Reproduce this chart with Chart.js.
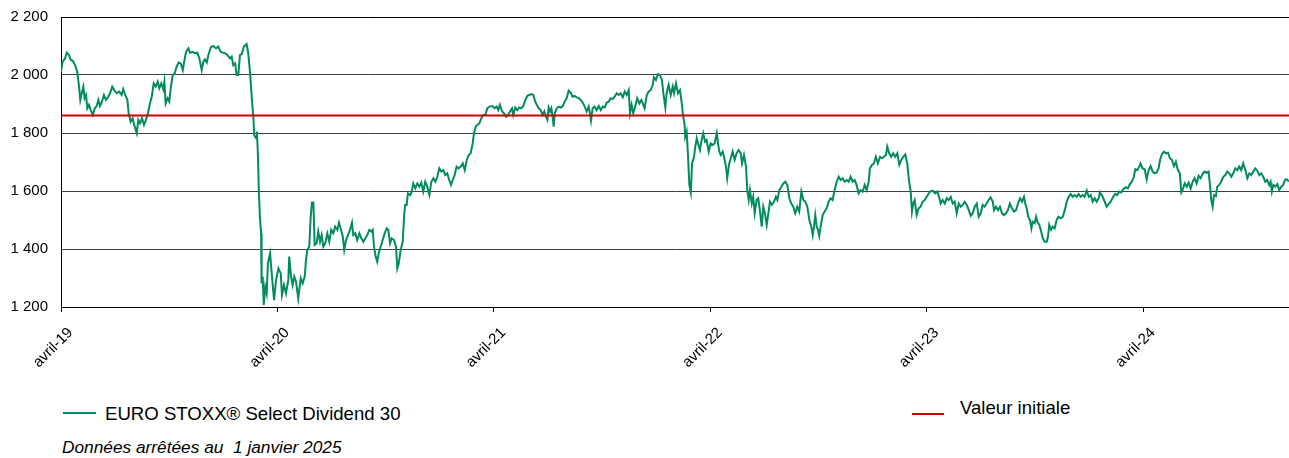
<!DOCTYPE html>
<html lang="fr">
<head>
<meta charset="utf-8">
<script src="https://cdn.jsdelivr.net/npm/chart.js@4.4.1/dist/chart.umd.min.js"></script>
<style>
  html, body { margin: 0; padding: 0; background: #fff; }
  body { width: 1289px; height: 458px; position: relative; overflow: hidden;
         font-family: 'Liberation Sans', Arial, sans-serif; color: #000; }
  #chart { position: absolute; left: 0; top: -5px; }
  .leg { position: absolute; font-size: 18.6px; line-height: 18px; white-space: nowrap; }
  .swatch { position: absolute; height: 2px; }
  #note { position: absolute; left: 62px; top: 439px; font-size: 17.3px; line-height: 17px;
          font-style: italic; white-space: pre; }
</style>
</head>
<body>
<canvas id="chart" width="1289" height="385"></canvas>
<div class="swatch" id="sw1" style="left:63px;top:412px;width:33px;"></div>
<div class="leg" id="lab1" style="left:105px;top:405px;"></div>
<div class="swatch" id="sw2" style="left:912px;top:413px;width:32px;"></div>
<div class="leg" id="lab2" style="left:960px;top:399px;"></div>
<div id="note">Données arrêtées au  1 janvier 2025</div>
<script>
'use strict';

const seriesName = 'EURO STOXX® Select Dividend 30';
const refName = 'Valeur initiale';
const initialValue = 1860;

// months since avril 2019
const tickMonths = [0, 12, 24, 36, 48, 60];
const tickLabels = ['avril-19', 'avril-20', 'avril-21', 'avril-22', 'avril-23', 'avril-24'];
const endMonth = 68.07;

const months = [
  // 2019 - early 2020
  0, 0.09, 0.22, 0.32, 0.44, 0.54, 0.65, 0.78, 0.90, 1.00,
  1.07, 1.15, 1.24, 1.31, 1.39, 1.46, 1.55, 1.65, 1.76, 1.87,
  1.98, 2.07, 2.16, 2.27, 2.38, 2.49, 2.62, 2.72, 2.84, 2.95,
  3.09, 3.23, 3.36, 3.45, 3.56, 3.68, 3.75, 3.86, 3.97, 4.06,
  4.20, 4.28, 4.38, 4.49, 4.60, 4.71, 4.82, 4.93, 5.03, 5.14,
  5.25, 5.36, 5.45, 5.56, 5.67, 5.73, 5.80, 5.91, 6.00, 6.08,
  6.19, 6.30, 6.41, 6.52, 6.64, 6.75, 6.83, 6.93, 7.06, 7.15,
  7.28, 7.43, 7.56, 7.67, 7.80, 7.89, 7.98, 8.08, 8.17, 8.30,
  8.44, 8.59, 8.72, 8.85, 8.96, 9.09, 9.22, 9.37, 9.46, 9.55,
  9.65, 9.74, 9.83, 9.92, 10.02, 10.14, 10.29, 10.38, 10.48, 10.57,
  10.66, 10.71, 10.81, 10.86, 10.92, 10.97, 11.03, 11.09, 11.12, 11.18,
  11.24, 11.32, 11.40, 11.47,
  // 2020 - 2021
  11.59, 11.68, 11.81, 11.92, 12.05, 12.18, 12.25, 12.36, 12.47, 12.60,
  12.65, 12.75, 12.84, 12.93, 13.03, 13.15, 13.29, 13.40, 13.51, 13.58,
  13.65, 13.76, 13.84, 13.91, 13.99, 14.06, 14.17, 14.26, 14.36, 14.45,
  14.54, 14.65, 14.76, 14.87, 14.98, 15.09, 15.20, 15.32, 15.41, 15.52,
  15.62, 15.70, 15.80, 15.91, 16.02, 16.13, 16.20, 16.31, 16.42, 16.54,
  16.65, 16.76, 16.87, 16.98, 17.09, 17.20, 17.28, 17.35, 17.44, 17.53,
  17.61, 17.72, 17.83, 17.94, 18.05, 18.14, 18.24, 18.33, 18.46, 18.57,
  18.64, 18.72, 18.83, 18.94, 19.03, 19.08, 19.16, 19.23, 19.35, 19.44,
  19.53, 19.64, 19.75, 19.86, 19.97, 20.08, 20.19, 20.30, 20.42, 20.53,
  20.64, 20.75, 20.86, 20.97, 21.08, 21.19, 21.30, 21.41, 21.52, 21.62,
  21.71, 21.82, 21.93, 22.04, 22.16, 22.27, 22.38, 22.49, 22.60, 22.71,
  22.82, 22.89, 22.99, 23.08, 23.19, 23.30, 23.41, 23.52, 23.63, 23.74,
  // 2021 - 2022
  23.93, 24.04, 24.15, 24.24, 24.33, 24.45, 24.56, 24.67, 24.78, 24.89,
  25.00, 25.07, 25.18, 25.29, 25.40, 25.51, 25.63, 25.74, 25.85, 25.96,
  26.07, 26.18, 26.29, 26.37, 26.48, 26.59, 26.70, 26.79, 26.88, 26.96,
  27.03, 27.11, 27.18, 27.26, 27.31, 27.37, 27.48, 27.59, 27.70, 27.81,
  27.92, 28.03, 28.14, 28.25, 28.36, 28.47, 28.59, 28.70, 28.81, 28.92,
  29.03, 29.14, 29.25, 29.32, 29.38, 29.47, 29.58, 29.69, 29.81, 29.92,
  30.03, 30.14, 30.25, 30.36, 30.47, 30.58, 30.69, 30.80, 30.91, 31.02,
  31.14, 31.25, 31.36, 31.47, 31.54, 31.63, 31.72, 31.83, 31.94, 32.06,
  32.17, 32.28, 32.35, 32.47, 32.58, 32.69, 32.80, 32.87, 32.98, 33.09,
  33.20, 33.31, 33.39, 33.50, 33.57, 33.68, 33.80, 33.91, 33.98, 34.09,
  34.20, 34.31, 34.41, 34.49, 34.57, 34.60, 34.68, 34.75, 34.83, 34.91,
  34.98, 35.09, 35.16, 35.24, 35.31,
  // 2022 - 2023
  35.42, 35.51, 35.60, 35.70, 35.79, 35.90, 36.01, 36.12, 36.23, 36.35,
  36.42, 36.49, 36.57, 36.68, 36.75, 36.86, 36.93, 37.04, 37.15, 37.23,
  37.34, 37.45, 37.56, 37.68, 37.75, 37.86, 37.97, 38.04, 38.12, 38.19,
  38.29, 38.37, 38.45, 38.56, 38.65, 38.75, 38.84, 38.93, 39.02, 39.12,
  39.21, 39.30, 39.41, 39.52, 39.63, 39.71, 39.82, 39.93, 40.04, 40.15,
  40.26, 40.37, 40.48, 40.59, 40.70, 40.81, 40.92, 41.04, 41.15, 41.26,
  41.37, 41.48, 41.59, 41.67, 41.74, 41.81, 41.89, 41.96, 42.03, 42.11,
  42.22, 42.33, 42.44, 42.55, 42.66, 42.77, 42.88, 43.00, 43.11, 43.22,
  43.33, 43.44, 43.55, 43.66, 43.77, 43.88, 43.99, 44.10, 44.21, 44.32,
  44.44, 44.55, 44.66, 44.77, 44.84, 44.95, 45.06, 45.17, 45.28, 45.40,
  45.51, 45.62, 45.73, 45.80, 45.91, 46.02, 46.13, 46.24, 46.36, 46.47,
  46.58, 46.69, 46.80, 46.91, 47.00, 47.10, 47.17, 47.24, 47.32, 47.43,
  47.54, 47.65, 47.76, 47.87, 47.99,
  // 2023 - 2024
  48.17, 48.32, 48.46, 48.58, 48.69, 48.76, 48.87, 48.99, 49.10, 49.21,
  49.32, 49.43, 49.54, 49.65, 49.76, 49.87, 49.98, 50.09, 50.21, 50.32,
  50.43, 50.54, 50.65, 50.76, 50.87, 50.98, 51.09, 51.20, 51.31, 51.42,
  51.53, 51.65, 51.72, 51.83, 51.94, 52.05, 52.16, 52.27, 52.38, 52.49,
  52.60, 52.71, 52.83, 52.94, 53.05, 53.16, 53.27, 53.38, 53.45, 53.53,
  53.62, 53.71, 53.79, 53.86, 53.97, 54.05, 54.12, 54.23, 54.31, 54.42,
  54.53, 54.64, 54.71, 54.78, 54.88, 54.97, 55.08, 55.19, 55.30, 55.41,
  55.53, 55.64, 55.75, 55.86, 55.97, 56.08, 56.19, 56.30, 56.41, 56.52,
  56.63, 56.74, 56.86, 56.97, 57.08, 57.19, 57.30, 57.41, 57.52,
  // 2024
  57.59, 57.74, 57.85, 57.96, 58.07, 58.18, 58.33, 58.44, 58.55, 58.66,
  58.77, 58.88, 59.03, 59.14, 59.25, 59.36, 59.47, 59.55, 59.66, 59.77,
  59.84, 59.95, 60.07, 60.18, 60.29, 60.40, 60.51, 60.62, 60.73, 60.84,
  60.92, 61.03, 61.14, 61.25, 61.36, 61.47, 61.58, 61.69, 61.80, 61.91,
  62.02, 62.10, 62.17, 62.29, 62.40, 62.51, 62.62, 62.73, 62.84, 62.95,
  63.06, 63.17, 63.28, 63.39, 63.50, 63.61, 63.69, 63.76, 63.84, 63.91,
  64.02, 64.09, 64.20, 64.31, 64.43, 64.54, 64.65, 64.76, 64.87, 64.98,
  65.09, 65.20, 65.31, 65.42, 65.53, 65.65, 65.76, 65.87, 65.98, 66.09,
  66.20, 66.31, 66.42, 66.53, 66.64, 66.75, 66.86, 66.97, 67.05, 67.12,
  67.20, 67.31, 67.42, 67.53, 67.64, 67.75, 67.86, 67.97, 68.05
];

const values = [
  // 2019 - early 2020
  2011, 2046, 2057, 2077, 2069, 2052, 2049, 2034, 2011, 1960,
  1914, 1937, 1960, 1920, 1931, 1885, 1897, 1879, 1862, 1885,
  1893, 1914, 1893, 1908, 1931, 1914, 1925, 1937, 1960, 1948,
  1937, 1943, 1931, 1951, 1931, 1914, 1868, 1839, 1851, 1828,
  1799, 1845, 1833, 1851, 1828, 1845, 1868, 1902, 1925, 1971,
  1960, 1977, 1954, 1971, 1951, 1977, 1902, 1920, 1908, 1954,
  2000, 2006, 2029, 2043, 2040, 2017, 2046, 2080, 2092, 2077,
  2080, 2075, 2077, 2057, 2017, 2046, 2054, 2043, 2069, 2095,
  2100, 2092, 2098, 2080, 2077, 2075, 2069, 2057, 2063, 2034,
  2040, 2000, 2000, 2069, 2072, 2098, 2107, 2075, 2006, 1925,
  1856, 1793, 1782, 1805, 1718, 1592, 1506, 1454, 1282, 1305,
  1207, 1270, 1247, 1350,
  // 2020 - 2021
  1385, 1316, 1224, 1293, 1333, 1316, 1241, 1276, 1247, 1293,
  1374, 1305, 1276, 1305, 1287, 1230, 1299, 1282, 1305, 1362,
  1397, 1408, 1511, 1560, 1560, 1414, 1420, 1460, 1425, 1448,
  1408, 1420, 1454, 1425, 1466, 1454, 1477, 1466, 1491, 1466,
  1443, 1397, 1431, 1448, 1466, 1491, 1448, 1454, 1431, 1454,
  1437, 1425, 1437, 1448, 1466, 1460, 1466, 1408, 1374, 1356,
  1385, 1408, 1431, 1454, 1471, 1466, 1420, 1437, 1431, 1408,
  1333, 1350, 1397, 1425, 1523, 1552, 1552, 1592, 1586, 1598,
  1626, 1609, 1626, 1615, 1629, 1598, 1632, 1615, 1586, 1632,
  1644, 1632, 1649, 1678, 1667, 1672, 1655, 1661, 1638, 1621,
  1638, 1655, 1684, 1678, 1684, 1695, 1672, 1707, 1724, 1730,
  1764, 1799, 1822, 1828, 1833, 1851, 1862, 1862, 1885, 1891,
  // 2021 - 2022
  1893, 1885, 1891, 1879, 1897, 1874, 1868, 1856, 1862, 1874,
  1885, 1862, 1888, 1879, 1888, 1885, 1893, 1914, 1928, 1931,
  1934, 1931, 1908, 1897, 1885, 1879, 1862, 1874, 1856, 1845,
  1888, 1874, 1885, 1851, 1822, 1868, 1885, 1891, 1888, 1893,
  1908, 1920, 1946, 1939, 1925, 1928, 1923, 1920, 1914, 1905,
  1891, 1874, 1891, 1868, 1843, 1885, 1891, 1879, 1893, 1879,
  1891, 1888, 1905, 1908, 1920, 1917, 1925, 1937, 1931, 1937,
  1923, 1943, 1931, 1948, 1868, 1897, 1868, 1891, 1920, 1902,
  1914, 1897, 1885, 1931, 1943, 1948, 1966, 1992, 1983, 2003,
  2000, 1983, 1937, 1888, 1937, 1966, 1931, 1960, 1937, 1971,
  1937, 1948, 1902, 1856, 1828, 1787, 1805, 1730, 1621, 1595,
  1695, 1718, 1753, 1782, 1764,
  // 2022 - 2023
  1741, 1776, 1799, 1770, 1776, 1736, 1764, 1759, 1764, 1799,
  1764, 1736, 1724, 1736, 1718, 1684, 1644, 1695, 1718, 1736,
  1707, 1730, 1741, 1730, 1695, 1724, 1684, 1603, 1569, 1603,
  1557, 1580, 1523, 1569, 1575, 1529, 1477, 1546, 1523, 1483,
  1523, 1563, 1552, 1563, 1580, 1569, 1603, 1615, 1626, 1632,
  1621, 1575, 1557, 1546, 1523, 1546, 1529, 1598, 1569, 1563,
  1546, 1500, 1477, 1448, 1477, 1517, 1477, 1466, 1445, 1477,
  1517, 1529, 1540, 1563, 1575, 1569, 1603, 1632, 1649, 1638,
  1644, 1632, 1638, 1632, 1649, 1632, 1638, 1621, 1592, 1603,
  1598, 1621, 1603, 1632, 1678, 1690, 1695, 1718, 1695, 1718,
  1713, 1718, 1724, 1753, 1730, 1718, 1730, 1718, 1730, 1690,
  1707, 1718, 1726, 1695, 1638, 1598, 1529, 1557, 1569, 1517,
  1540, 1546, 1563, 1569, 1580,
  // 2023 - 2024
  1598, 1601, 1592, 1598, 1575, 1557, 1569, 1557, 1575, 1569,
  1580, 1557, 1563, 1523, 1557, 1546, 1552, 1563, 1552, 1534,
  1514, 1523, 1546, 1557, 1511, 1523, 1552, 1546, 1557, 1569,
  1578, 1563, 1534, 1546, 1534, 1546, 1523, 1517, 1523, 1534,
  1557, 1540, 1529, 1534, 1557, 1575, 1563, 1580, 1557, 1540,
  1511, 1500, 1471, 1494, 1489, 1511, 1494, 1483, 1466, 1437,
  1425, 1425, 1443, 1483, 1466, 1477, 1471, 1500, 1511, 1506,
  1511, 1534, 1563, 1580, 1590, 1580, 1586, 1580, 1590, 1580,
  1586, 1580, 1601, 1580, 1586, 1563, 1575, 1563, 1575,
  // 2024
  1595, 1580, 1563, 1546, 1555, 1563, 1580, 1590, 1586, 1598,
  1595, 1606, 1613, 1609, 1624, 1632, 1649, 1675, 1672, 1684,
  1695, 1678, 1675, 1640, 1672, 1686, 1667, 1661, 1663, 1678,
  1707, 1728, 1736, 1730, 1732, 1713, 1707, 1686, 1701, 1672,
  1661, 1595, 1603, 1626, 1615, 1629, 1609, 1632, 1644, 1626,
  1652, 1644, 1659, 1667, 1663, 1667, 1621, 1569, 1546, 1586,
  1583, 1615, 1621, 1632, 1649, 1655, 1667, 1661, 1649, 1661,
  1678, 1672, 1684, 1672, 1695, 1672, 1644, 1661, 1655, 1667,
  1678, 1670, 1655, 1661, 1649, 1632, 1638, 1621, 1632, 1598,
  1621, 1615, 1624, 1603, 1615, 1621, 1640, 1640, 1632
];

const green = '#008c5f';
const red = '#d00000';
const fontFamily = "'Liberation Sans', Arial, sans-serif";

function fmt(v) {
  return String(v).replace(/\B(?=(\d{3})+(?!\d))/g, ' ');
}

const data = {
  datasets: [
    {
      label: refName,
      data: [{ x: 0, y: initialValue }, { x: endMonth, y: initialValue }],
      borderColor: red,
      borderWidth: 2,
      pointRadius: 0,
    },
    {
      label: seriesName,
      data: months.map((m, i) => ({ x: m, y: values[i] })),
      borderColor: green,
      borderWidth: 2,
      pointRadius: 0,
      tension: 0,
    },
  ],
};

const config = {
  type: 'line',
  data: data,
  options: {
    responsive: false,
    animation: false,
    devicePixelRatio: 1,
    layout: { padding: { top: 14, right: 0, left: 0, bottom: 0 } },
    plugins: { legend: { display: false }, tooltip: { enabled: false } },
    scales: {
      x: {
        type: 'linear',
        min: 0,
        max: endMonth,
        afterBuildTicks: s => { s.ticks = tickMonths.map(v => ({ value: v })); },
        afterFit: s => { s.height = 73; },
        grid: { drawOnChartArea: false, drawTicks: true, tickLength: 5, color: '#000' },
        border: { color: '#000', width: 1 },
        ticks: {
          autoSkip: false,
          minRotation: 45,
          maxRotation: 45,
          labelOffset: 9.5,
          padding: 12,
          color: '#000',
          font: { family: fontFamily, size: 15 },
          callback: v => tickLabels[tickMonths.indexOf(v)] || '',
        },
      },
      y: {
        min: 1200,
        max: 2200,
        afterFit: s => { s.width = 61; },
        grid: {
          drawTicks: false,
          color: c => (c.tick && c.tick.value === 2200 ? '#000' : '#404040'),
          lineWidth: 1,
        },
        border: { color: '#000', width: 1 },
        ticks: {
          stepSize: 200,
          padding: 13,
          color: '#000',
          font: { family: fontFamily, size: 15 },
          callback: v => fmt(v),
        },
      },
    },
  },
};

const chart = new Chart(document.getElementById('chart'), config);

// legend built from the datasets
const greenSet = chart.data.datasets[1];
const redSet = chart.data.datasets[0];
document.getElementById('sw1').style.background = greenSet.borderColor;
document.getElementById('lab1').textContent = greenSet.label;
document.getElementById('sw2').style.background = redSet.borderColor;
document.getElementById('lab2').textContent = redSet.label;
</script>
</body>
</html>
